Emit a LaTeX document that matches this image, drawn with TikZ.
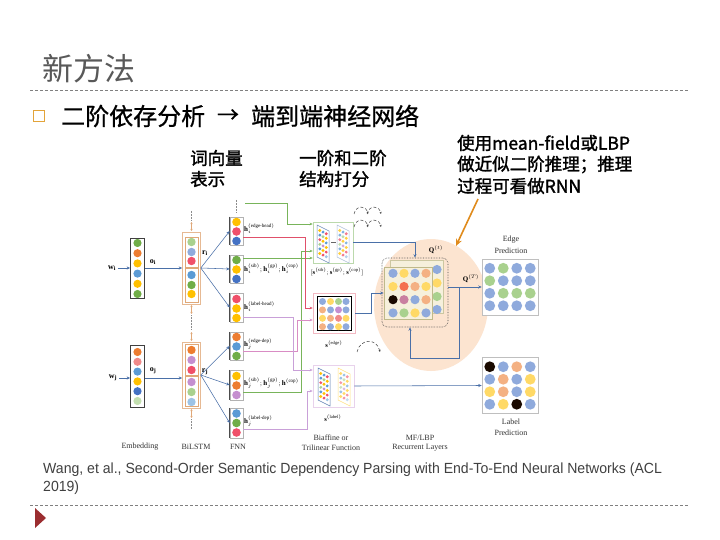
\documentclass[tikz,border=0pt]{standalone}
\usepackage{fontspec}
\usepackage{amsmath}
\setmainfont{Liberation Serif}
\newfontfamily\cjk{Noto Sans CJK SC}
\newfontfamily\cjkb{Noto Sans CJK SC}[FakeBold=1.6]
\newfontfamily\cjkm{Noto Sans CJK SC}[FakeBold=0.8]
\newfontfamily\arialc{Liberation Sans}[FakeStretch=0.957]
\usetikzlibrary{arrows.meta,shapes.geometric,calc}
\definecolor{cG}{HTML}{70AD47}
\definecolor{cO}{HTML}{ED7D31}
\definecolor{cY}{HTML}{FFC000}
\definecolor{cB}{HTML}{5B9BD5}
\definecolor{cDB}{HTML}{4472C4}
\definecolor{cR}{HTML}{F0506A}
\definecolor{cP}{HTML}{C58FD0}
\definecolor{cLG}{HTML}{A9D18E}
\definecolor{cLB}{HTML}{9DC3E6}
\definecolor{cS}{HTML}{F4B183}
\definecolor{cPk}{HTML}{F08A8A}
\definecolor{cPer}{HTML}{8FAADC}
\definecolor{cYl}{HTML}{FFD966}
\definecolor{cMa}{HTML}{C980A0}
\definecolor{cRO}{HTML}{F4704F}
\definecolor{cBk}{HTML}{1A0A00}
\definecolor{peach}{HTML}{FCE4D0}
\definecolor{lnG}{HTML}{78B45A}
\definecolor{lnR}{HTML}{E0506A}
\definecolor{lnP}{HTML}{C9A0D8}
\definecolor{lnPk}{HTML}{D98CC4}
\definecolor{lnB}{HTML}{4A70A8}
\definecolor{lstmc}{HTML}{E0A878}
\definecolor{annc}{HTML}{E08B1C}
\definecolor{tric}{HTML}{9B2D30}
\definecolor{bulc}{HTML}{E3A43A}
\definecolor{olive}{HTML}{BFB98A}
\definecolor{beige}{HTML}{F6F0DC}
\tikzset{
 embbox/.style={draw=black!75, line width=0.7pt, minimum width=14pt, inner sep=0pt},
 lstmout/.style={draw=lstmc!80, line width=0.6pt, minimum width=18pt, inner sep=0pt},
 lstmin/.style={draw=lstmc, line width=0.6pt, minimum width=13pt, inner sep=0pt},
 fnnbox/.style={draw=black!30, line width=0.5pt, minimum width=13pt, inner sep=0pt},
 barr/.style={draw=lnB, line width=0.55pt, -{Stealth[length=3.5pt,width=3pt]}},
 carr/.style={line width=0.8pt, -{Stealth[length=3pt,width=2.6pt]}},
 flab/.style={font=\fontsize{7}{8}\selectfont, anchor=west, inner sep=0pt},
 figcap/.style={font=\fontsize{8}{9}\selectfont, inner sep=0pt, text=black!80},
 annot/.style={font=\cjkb\fontsize{17.5}{18}\selectfont, anchor=west, inner sep=0pt},
 depa/.style={densely dashed, black!75, line width=0.5pt, -{Stealth[length=2.2pt,width=2pt]}},
 gridbox/.style={draw=black!25, line width=0.5pt, fill=white, minimum width=56pt, minimum height=56pt, inner sep=0pt},
 dotl/.style={black!45, densely dotted, line width=0.5pt},
 updown/.style={lstmc, line width=0.5pt, {Stealth[length=2pt,width=2pt]}-{Stealth[length=2pt,width=2pt]}},
}
\newcommand\slmat[3]{%
 \begin{scope}[#3]
 \draw[line width=0.5pt] (#1,#2) -- ++(12,6) -- ++(0,32) -- ++(-12,-6) -- cycle;
 \foreach \r/\ca/\cb/\cc in {0/cY/cB/cR,1/cB/cLG/cY,2/cR/cY/cB,3/cLG/cP/cY,4/cB/cY/cR,5/cY/cR/cLB}{
   \fill[\ca] (#1+2.8,#2+5.5+4.6*\r) circle (1.6pt);
   \fill[\cb] (#1+6,#2+7.1+4.6*\r) circle (1.6pt);
   \fill[\cc] (#1+9.2,#2+8.7+4.6*\r) circle (1.6pt);
 }
 \end{scope}}
\begin{document}
\begin{tikzpicture}[x=1pt,y=-1pt]
\useasboundingbox (0,0) rectangle (720,540);
\fill[white] (0,0) rectangle (720,540);
% ---------- slide frame ----------
\node[anchor=west, inner sep=0pt, font=\cjk\fontsize{31}{31}\selectfont, text=black!65] (title) at (42,69) {新方法};
\draw[black!50, line width=0.6pt, dash pattern=on 3pt off 2pt] (30,90) -- (688,90);
\node[draw=bulc, line width=1.1pt, minimum size=11pt, inner sep=0pt] (bul) at (39,116) {};
\node[anchor=west, inner sep=0pt, font=\cjkm\fontsize{24}{24}\selectfont] (bt1) at (61,116) {二阶依存分析};
\node[inner sep=0pt, font=\cjkm\fontsize{22}{22}\selectfont] (btarr) at (228,116) {→};
\node[anchor=west, inner sep=0pt, font=\cjkm\fontsize{24}{24}\selectfont] (bt2) at (251,116) {端到端神经网络};
\node[annot] (a1a) at (190,158) {词向量};
\node[annot] (a1b) at (190,179) {表示};
\node[annot] (a2a) at (299,158) {一阶和二阶};
\node[annot] (a2b) at (299,179) {结构打分};
\node[annot] (a3a) at (457,143) {使用mean-field或LBP};
\node[annot] (a3b) at (457,164.5) {做近似二阶推理；推理};
\node[annot] (a3c) at (457,186) {过程可看做RNN};
\node[anchor=west, inner sep=0pt, font=\arialc\fontsize{14.7}{15}\selectfont, text=black!75] (cit1) at (43,470) {Wang, et al., Second-Order Semantic Dependency Parsing with End-To-End Neural Networks (ACL};
\node[anchor=west, inner sep=0pt, font=\arialc\fontsize{14.7}{15}\selectfont, text=black!75] (cit2) at (43,488) {2019)};
\draw[black!50, line width=0.6pt, dash pattern=on 3pt off 2pt] (30,505) -- (688,505);
\fill[tric] (35,508) -- (35,528) -- (46,518) -- cycle;
% ---------- big peach circle ----------
\node[ellipse, fill=peach, minimum width=114pt, minimum height=132pt, inner sep=0pt] (circ) at (431,305) {};
% ---------- embedding ----------
\node[embbox, minimum height=60pt] (embi) at (137.5,268) {};
\foreach \c [count=\k from 0] in {cG,cO,cY,cB,cY,cG} \fill[\c] (137.5,243+10.2*\k) circle (4.1pt);
\node[embbox, minimum height=62pt] (embj) at (137.5,376) {};
\foreach \c [count=\k from 0] in {cO,cPk,cB,cY,cDB,cLG!70} \fill[\c] (137.5,352+9.8*\k) circle (4.1pt);
\node[inner sep=0pt, font=\fontsize{8}{9}\selectfont] (wi) at (112,268) {$\mathbf{w}_\mathbf{i}$};
\node[inner sep=0pt, font=\fontsize{8}{9}\selectfont] (wj) at (113,378) {$\mathbf{w}_\mathbf{j}$};
\draw[barr] (wi.east) ++(2,0) -- (embi.west);
\draw[barr] (wj.east) ++(2,0) -- (embj.west |- wj);
% ---------- BiLSTM ----------
\node[lstmout, minimum height=72pt] (lstmi) at (191.5,268) {};
\node[lstmin, minimum height=30pt] (lstmit) at (191.5,252) {};
\node[lstmin, minimum height=34pt] (lstmib) at (191.5,285) {};
\foreach \c/\y in {cLG/242,cPer/252,cR/261,cB/275,cG/285,cY/294} \fill[\c] (191.5,\y) circle (4.2pt);
\node[lstmout, minimum height=66pt] (lstmj) at (191.5,375) {};
\node[lstmin, minimum height=31pt] (lstmjt) at (191.5,359.5) {};
\node[lstmin, minimum height=30pt] (lstmjb) at (191.5,391) {};
\foreach \c/\y in {cO/350,cP/360,cR/370,cP/382,cLG/392,cLB/402} \fill[\c] (191.5,\y) circle (4.2pt);
\draw[dotl] (191.5,211) -- (191.5,221);
\draw[updown] (191.5,222) -- (191.5,231);
\draw[updown] (191.5,305) -- (191.5,314);
\draw[dotl] (191.5,315) -- (191.5,330);
\draw[updown] (191.5,332) -- (191.5,341);
\draw[updown] (191.5,409) -- (191.5,418);
\draw[dotl] (191.5,419) -- (191.5,429);
\draw[barr] (embi.east) -- (lstmi.west);
\draw[barr] (embj.east |- wj) -- (lstmj.west |- wj);
\node[inner sep=0pt, font=\fontsize{8}{9}\selectfont] (oi) at (153,262) {$\mathbf{o}_\mathbf{i}$};
\node[inner sep=0pt, font=\fontsize{8}{9}\selectfont] (oj) at (153,371) {$\mathbf{o}_\mathbf{j}$};
\node[inner sep=0pt, font=\fontsize{8}{9}\selectfont] (ri) at (205,253) {$\mathbf{r}_\mathbf{i}$};
\node[inner sep=0pt, font=\fontsize{8}{9}\selectfont] (rj) at (205,372) {$\mathbf{r}_\mathbf{j}$};
% ---------- FNN ----------
\foreach \n/\y/\h in {fi1/231/28,fi2/269/28,fi3/307.5/29,fj1/346/28,fj2/385/30,fj3/423/30}{
  \node[fnnbox, minimum height=\h pt] (\n) at (236.5,\y) {};
  \draw[black!70, line width=0.8pt] (\n.north west) -- (\n.south west);
}
\foreach \c/\y in {cY/222,cR/231.5,cDB/241, cG/260,cY/269.5,cDB/279, cR/299,cY/308.5,cY/318,
  cO/337,cB/346.5,cG/356, cY/376,cO/385.5,cP/395, cB/413.5,cG/423,cR/432.5}
  \fill[\c] (236.5,\y) circle (4.3pt);
\draw[dotl] (236.5,200) -- (236.5,213);
\foreach \t in {fi1,fi2,fi3} \draw[barr] (lstmi.east) -- (\t.west);
\foreach \t in {fj1,fj2,fj3} \draw[barr] (lstmj.east) -- (\t.west);
\node[flab] (hi1) at (244,229) {$\mathbf{h}_i^{(\text{edge-head})}$};
\node[flab] (hi2) at (244,269) {$\mathbf{h}_i^{(\text{sib})};\mathbf{h}_i^{(\text{gp})};\mathbf{h}_i^{(\text{cop})}$};
\node[flab] (hi3) at (244,307) {$\mathbf{h}_i^{(\text{label-head})}$};
\node[flab] (hj1) at (244,344) {$\mathbf{h}_j^{(\text{edge-dep})}$};
\node[flab] (hj2) at (244,383) {$\mathbf{h}_j^{(\text{sib})};\mathbf{h}_j^{(\text{gp})};\mathbf{h}^{(\text{cop})}$};
\node[flab] (hj3) at (244,421) {$\mathbf{h}_j^{(\text{label-dep})}$};
% ---------- scoring modules ----------
\node[draw=lnG!50, line width=0.6pt, minimum width=40pt, minimum height=41pt, inner sep=0pt, fill=white] (scoreS) at (333,242.5) {};
\slmat{317}{225}{draw=lnB!80}
\slmat{337}{225}{draw=lnB!60, opacity=0.75}
\draw[black!60, line width=0.5pt] (331,242) -- (336,242);
\node[draw=lnR!40, line width=0.6pt, minimum width=42pt, minimum height=40pt, inner sep=0pt, fill=white] (scoreE) at (334,313) {};
\node[draw=black, line width=0.9pt, minimum width=34pt, minimum height=34pt, inner sep=0pt] (scoreEin) at (334,313.5) {};
\foreach \ca/\cb/\cc/\cd [count=\r from 0] in {cPer/cYl/cLG/cPer, cS/cPer/cP/cPer, cYl/cS/cPk/cYl, cS/cPer/cYl/cPer}{
  \fill[\ca] (322.5,301.5+8.4*\r) circle (3.5pt);
  \fill[\cb] (330.5,301.5+8.4*\r) circle (3.5pt);
  \fill[\cc] (338.5,301.5+8.4*\r) circle (3.5pt);
  \fill[\cd] (346,301.5+8.4*\r) circle (3.5pt);
}
\node[draw=cP!40, line width=0.6pt, minimum width=41pt, minimum height=42pt, inner sep=0pt, fill=white] (scoreL) at (333.5,386) {};
\slmat{318}{368}{draw=lnB!90}
\slmat{338}{368}{draw=cY!80, opacity=0.6}
\node[inner sep=0pt, font=\fontsize{6.5}{7}\selectfont] (sS) at (337,272) {$[\mathbf{s}^{(\text{sib})};\mathbf{s}^{(\text{gp})};\mathbf{s}^{(\text{cop})}]$};
\node[inner sep=0pt, font=\fontsize{6.5}{7}\selectfont] (sE) at (334,344) {$\mathbf{s}^{(\text{edge})}$};
\node[inner sep=0pt, font=\fontsize{6.5}{7}\selectfont] (sL) at (333,418) {$\mathbf{s}^{(\text{label})}$};
% dependency arcs
\draw[depa] (354,214) .. controls (356,205) and (366,205) .. (368,214);
\draw[depa] (367,214) .. controls (369,205) and (379,205) .. (381,214);
\draw[depa] (354,227) .. controls (356,218) and (366,218) .. (368,227);
\draw[depa] (367,227) .. controls (369,218) and (379,218) .. (381,227);
\draw[depa] (357,352) .. controls (360,338) and (377,338) .. (380,352);
% ---------- colored routes ----------
\coordinate (gtop) at (245,203);
\draw[carr, lnG] (gtop) -- (287,203) -- (287,224) -- (scoreS.west |- 0,224);
\draw[carr, lnG] (fi2.east |- 0,258) -- (scoreS.west |- 0,258);
\draw[carr, lnG] (fj2.east |- 0,392) -- (301,392) -- (301,251) -- (scoreS.west |- 0,251);
\draw[carr, lnR] (fi1.east |- 0,237) -- (305,237) -- (305,308) -- (scoreE.west |- 0,308);
\draw[carr, lnPk] (fj1.east |- 0,351) -- (297,351) -- (297,320) -- (scoreE.west |- 0,320);
\draw[carr, lnP] (fi3.east |- 0,317) -- (293,317) -- (293,370) -- (scoreL.west |- 0,370);
\draw[carr, lnP] (fj3.east |- 0,429) -- (307,429) -- (307,391) -- (scoreL.west |- 0,391);
% ---------- MF / LBP ----------
\node[draw=black!70, densely dotted, line width=0.6pt, rounded corners=5pt, minimum width=66pt, minimum height=69pt, inner sep=0pt] (mf) at (415,292.5) {};
\node[draw=olive!80, fill=beige, line width=0.6pt, minimum width=53pt, minimum height=53pt, inner sep=0pt] (qback) at (416.5,286.5) {};
\foreach \c/\y in {cPer/269.5,cYl/283,cLG/296.5,cPer/309.5} \fill[\c] (437,\y) circle (4.6pt);
\node[draw=olive, fill=beige, line width=0.7pt, minimum width=48pt, minimum height=52pt, inner sep=0pt] (qfront) at (408,293) {};
\foreach \ca/\cb/\cc/\cd [count=\r from 0] in {cPer/cYl/cPer/cS, cYl/cRO/cS/cYl, cBk/cMa/cPer/cS, cPer/cLG/cYl/cPer}{
  \fill[\ca] (393,273.3+13.2*\r) circle (4.6pt);
  \fill[\cb] (404,273.3+13.2*\r) circle (4.6pt);
  \fill[\cc] (415,273.3+13.2*\r) circle (4.6pt);
  \fill[\cd] (426,273.3+13.2*\r) circle (4.6pt);
}
\node[inner sep=0pt, font=\fontsize{7}{8}\selectfont] (qt) at (436,250) {$\mathbf{Q}^{(t)}$};
\node[inner sep=0pt, font=\fontsize{7}{8}\selectfont] (qT) at (471,279) {$\mathbf{Q}^{(T)}$};
% ---------- predictions ----------
\node[gridbox] (edge) at (510,287) {};
\foreach \ca/\cb/\cc/\cd [count=\r from 0] in {cPer/cLG/cPer/cPer, cLG/cPer/cPer/cPer, cPer/cLG/cLG/cLG, cPer/cPer/cPer/cPer}{
  \fill[\ca] (489.75,268.25+12.5*\r) circle (5.4pt);
  \fill[\cb] (503.25,268.25+12.5*\r) circle (5.4pt);
  \fill[\cc] (516.75,268.25+12.5*\r) circle (5.4pt);
  \fill[\cd] (530.25,268.25+12.5*\r) circle (5.4pt);
}
\node[gridbox] (lab) at (510,385.5) {};
\foreach \ca/\cb/\cc/\cd [count=\r from 0] in {cBk/cPer/cS/cPer, cPer/cS/cPer/cYl, cYl/cS/cPer/cYl, cPer/cYl/cBk/cPer}{
  \fill[\ca] (489.75,366.75+12.5*\r) circle (5.4pt);
  \fill[\cb] (503.25,366.75+12.5*\r) circle (5.4pt);
  \fill[\cc] (516.75,366.75+12.5*\r) circle (5.4pt);
  \fill[\cd] (530.25,366.75+12.5*\r) circle (5.4pt);
}
\node[figcap] (edgeT1) at (511,240) {Edge};
\node[figcap] (edgeT2) at (511,251) {Prediction};
\node[figcap] (labT1) at (511,422) {Label};
\node[figcap] (labT2) at (511,433) {Prediction};
% ---------- blue flow arrows ----------
\draw[barr] (scoreS.east) -| (mf.north);
\draw[barr] (scoreE.east) -- (371,313) |- (qfront.west);
\draw[barr] (mf.east |- edge.west) -- (edge.west);
\draw[barr] (459,287) -- (459,358) -- (410,358) -- (410,0 |- mf.south);
\draw[barr] (scoreL.east) -- (lab.west);
% ---------- captions ----------
\node[figcap] (capE) at (140,447) {Embedding};
\node[figcap] (capB) at (196,447) {BiLSTM};
\node[figcap] (capF) at (238,447) {FNN};
\node[figcap] (capS1) at (331,438) {Biaffine or};
\node[figcap] (capS2) at (331,448) {Trilinear Function};
\node[figcap] (capM1) at (420,438) {MF/LBP};
\node[figcap] (capM2) at (420,448) {Recurrent Layers};
% ---------- annotation arrow ----------
\coordinate (annS) at (478,199);
\coordinate (annE) at (456,246);
\draw[annc, line width=1.6pt, -{Stealth[length=7pt,width=6pt]}] (annS) -- (annE);
\end{tikzpicture}
\end{document}
